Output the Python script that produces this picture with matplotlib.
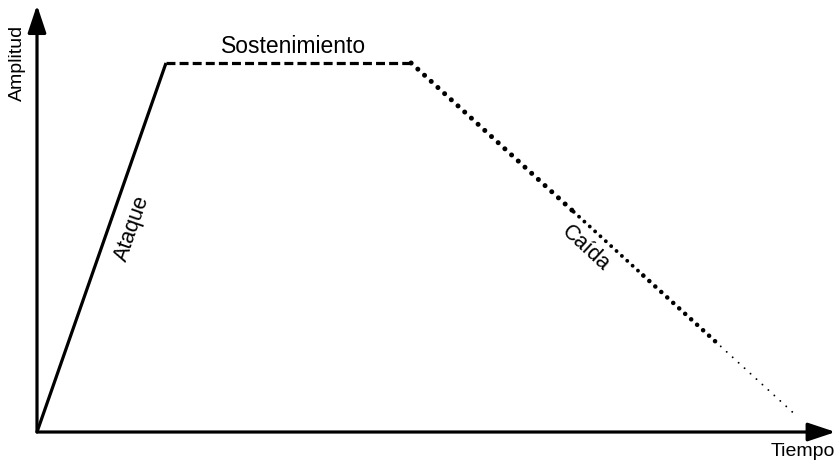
import numpy as np
import matplotlib.pyplot as plt

# envelope breakpoints (time in arbitrary units, amplitude normalised)
fases = ["Ataque", "Sostenimiento", "Caída"]
tiempo = [0, 10, 29, 59]
amplitud = [0, 1, 1, 0.04]

plt.rcParams['font.family'] = ['Liberation Sans', 'DejaVu Sans']

fig = plt.figure(figsize=(8.38, 4.65), dpi=100)
ax = fig.add_axes([0, 0, 1, 1])
ax.set_xlim(-2.868, 62.09)
ax.set_ylim(-0.0894, 1.1707)
ax.axis("off")

# axes with arrow heads
ax.annotate("", xy=(61.9, 0), xytext=(0, 0),
            arrowprops=dict(arrowstyle="-|>,head_length=1.2,head_width=0.4", lw=2.3, color="black",
                            shrinkA=0, shrinkB=0, mutation_scale=14))
ax.annotate("", xy=(0, 1.157), xytext=(0, 0),
            arrowprops=dict(arrowstyle="-|>,head_length=1.2,head_width=0.4", lw=2.3, color="black",
                            shrinkA=0, shrinkB=0, mutation_scale=14))

# attack: solid
ax.plot(tiempo[0:2], amplitud[0:2], color="black", lw=2.3, solid_capstyle="butt")
# sustain: dashed
ax.plot(tiempo[1:3], amplitud[1:3], color="black", lw=2.3, linestyle=(0, (2.8, 1.3)))

# decay: dotted, dot size changes along the line
t0, t1 = tiempo[2], tiempo[3]
a0, a1 = amplitud[2], amplitud[3]
# (start fraction, end fraction, dot size pt, dot spacing pt)
tramos = [(0.0, 0.42, 3.6, 6.5), (0.42, 0.60, 2.8, 5.2), (0.60, 0.80, 3.3, 5.8), (0.80, 1.0, 1.4, 5.8)]
for f0, f1, lw, paso in tramos:
    xs = [t0 + f0 * (t1 - t0), t0 + f1 * (t1 - t0)]
    ys = [a0 + f0 * (a1 - a0), a0 + f1 * (a1 - a0)]
    ax.plot(xs, ys, color="black", lw=lw, linestyle=(0, (0.01, paso / lw)),
            dash_capstyle="round")

# labels
ax.text(-1.55, 1.0, "Amplitud", rotation=90, ha="center", va="center", fontsize=14)
ax.text(59.4, -0.052, "Tiempo", ha="center", va="center", fontsize=14)
ax.text(19.9, 1.045, fases[1], ha="center", va="center", fontsize=16.5)
ax.text(7.36, 0.553, fases[0], rotation=70.7, ha="center", va="center", fontsize=15.5)
ax.text(42.5, 0.499, fases[2], rotation=-42.7, ha="center", va="center", fontsize=15.5)

plt.savefig("out.png", dpi=100)
